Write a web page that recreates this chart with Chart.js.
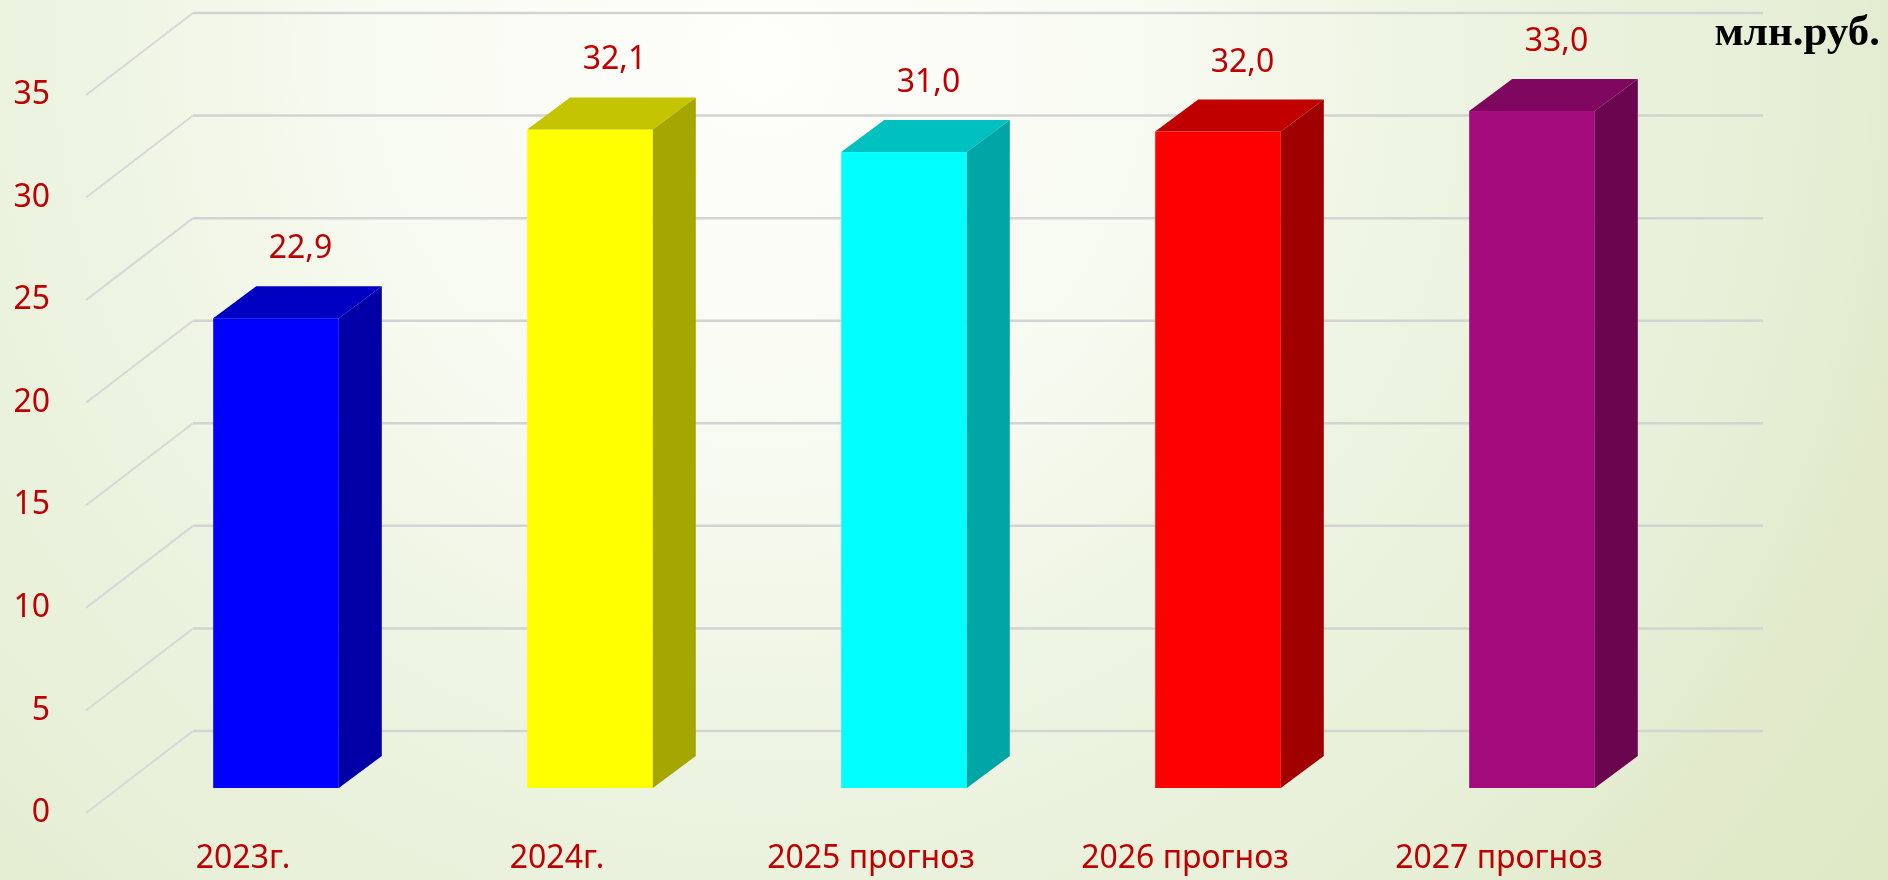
<!DOCTYPE html>
<html>
<head>
<meta charset="utf-8">
<script src="https://cdn.jsdelivr.net/npm/chart.js@4.4.1/dist/chart.umd.min.js"></script>
<style>
  html, body { margin: 0; padding: 0; background: #eef3e2; }
  #wrap { width: 1888px; height: 880px; position: relative; }
</style>
</head>
<body>
<div id="wrap"><canvas id="revenueChart"></canvas></div>
<script>
// Chart data
const categories = ['2023г.', '2024г.', '2025 прогноз', '2026 прогноз', '2027 прогноз'];
const values = [22.9, 32.1, 31.0, 32.0, 33.0];
const valueLabels = ['22,9', '32,1', '31,0', '32,0', '33,0'];
const unitLabel = 'млн.руб.';

// face / top / side colours of each box
const frontColors = ['#0000ff', '#ffff00', '#00ffff', '#ff0000', '#a30b7c'];
const topColors = ['#0000c2', '#c4c400', '#00c0c0', '#c00000', '#80075f'];
const sideColors = ['#0000a6', '#a6a600', '#00a6a6', '#a00000', '#6b0550'];

const RED = '#c00000';
const FONT = '"Noto Sans", "Open Sans", sans-serif';

// 3D look: back wall offset, bar face offset, bar depth
const WALL = { dx: 107, dy: -82 };
const FACE = { dx: 33, dy: -25 };
const DEPTH = { dx: 43, dy: -32 };

const backgroundPlugin = {
    id: 'bg',
    beforeDraw(chart) {
        const { ctx, width, height } = chart;
        const g = ctx.createRadialGradient(760, 60, 0, 760, 60, 1400);
        g.addColorStop(0, '#fefefb');
        g.addColorStop(0.3, '#f7faf0');
        g.addColorStop(0.52, '#ecf3e0');
        g.addColorStop(0.75, '#e6efd6');
        g.addColorStop(0.84, '#e2eacb');
        g.addColorStop(1, '#dfe9c6');
        ctx.save();
        ctx.fillStyle = g;
        ctx.fillRect(0, 0, width, height);
        ctx.restore();
    }
};

const wallPlugin = {
    id: 'wall',
    beforeDatasetsDraw(chart) {
        const { ctx, chartArea } = chart;
        const y = chart.scales.y;
        ctx.save();
        y.ticks.forEach(t => {
            const py = y.getPixelForValue(t.value);
            // floor diagonal
            ctx.strokeStyle = '#d8d8d8';
            ctx.lineWidth = 2;
            ctx.beginPath();
            ctx.moveTo(chartArea.left, py);
            ctx.lineTo(chartArea.left + WALL.dx, py + WALL.dy);
            ctx.stroke();
            // back wall line
            ctx.strokeStyle = '#d3d3d3';
            ctx.lineWidth = 2.5;
            ctx.beginPath();
            ctx.moveTo(chartArea.left + WALL.dx, py + WALL.dy);
            ctx.lineTo(chartArea.right + WALL.dx, py + WALL.dy);
            ctx.stroke();
        });
        ctx.restore();
    }
};

const boxPlugin = {
    id: 'boxes',
    afterDatasetsDraw(chart) {
        const { ctx } = chart;
        const meta = chart.getDatasetMeta(0);
        ctx.save();
        meta.data.forEach((bar, i) => {
            const x0 = bar.x - bar.width / 2 + FACE.dx;
            const x1 = bar.x + bar.width / 2 + FACE.dx;
            const yt = bar.y + FACE.dy;
            const yb = bar.base + FACE.dy;

            ctx.fillStyle = frontColors[i];
            ctx.fillRect(x0, yt, x1 - x0, yb - yt);

            ctx.fillStyle = topColors[i];
            ctx.beginPath();
            ctx.moveTo(x0, yt);
            ctx.lineTo(x1, yt);
            ctx.lineTo(x1 + DEPTH.dx, yt + DEPTH.dy);
            ctx.lineTo(x0 + DEPTH.dx, yt + DEPTH.dy);
            ctx.closePath();
            ctx.fill();

            ctx.fillStyle = sideColors[i];
            ctx.beginPath();
            ctx.moveTo(x1, yt);
            ctx.lineTo(x1 + DEPTH.dx, yt + DEPTH.dy);
            ctx.lineTo(x1 + DEPTH.dx, yb + DEPTH.dy);
            ctx.lineTo(x1, yb);
            ctx.closePath();
            ctx.fill();

            // value label above the box
            ctx.fillStyle = RED;
            ctx.font = '32px ' + FONT;
            ctx.textAlign = 'center';
            ctx.textBaseline = 'alphabetic';
            ctx.fillText(valueLabels[i], (x0 + x1) / 2 + DEPTH.dx / 2 + 3, yt + DEPTH.dy - 28);
        });

        // unit caption
        ctx.fillStyle = '#000000';
        ctx.font = 'bold 43px "Liberation Serif", "DejaVu Serif", serif';
        ctx.textAlign = 'right';
        ctx.textBaseline = 'alphabetic';
        ctx.fillText(unitLabel, 1880, 45);
        ctx.restore();
    }
};

const ctx = document.getElementById('revenueChart').getContext('2d');
const revenueChart = new Chart(ctx, {
    type: 'bar',
    data: {
        labels: categories,
        datasets: [{
            data: values,
            backgroundColor: 'rgba(0,0,0,0)',
            borderWidth: 0,
            barPercentage: 0.4,
            categoryPercentage: 1.0
        }]
    },
    options: {
        responsive: true,
        maintainAspectRatio: false,
        animation: false,
        layout: { padding: { top: 95, right: 232, bottom: 0, left: 0 } },
        plugins: {
            legend: { display: false },
            tooltip: { enabled: false }
        },
        scales: {
            x: {
                grid: { display: false, drawTicks: false },
                border: { display: false },
                ticks: { color: RED, font: { family: FONT, size: 32 }, padding: 27, maxRotation: 0 },
                afterFit(scale) { scale.height = 67; }
            },
            y: {
                min: 0,
                max: 35,
                grid: { display: false, drawTicks: false },
                border: { display: false },
                ticks: { stepSize: 5, color: RED, font: { family: FONT, size: 32 }, padding: 36 },
                afterFit(scale) { scale.width = 86; }
            }
        }
    },
    plugins: [backgroundPlugin, wallPlugin, boxPlugin]
});
</script>
</body>
</html>
